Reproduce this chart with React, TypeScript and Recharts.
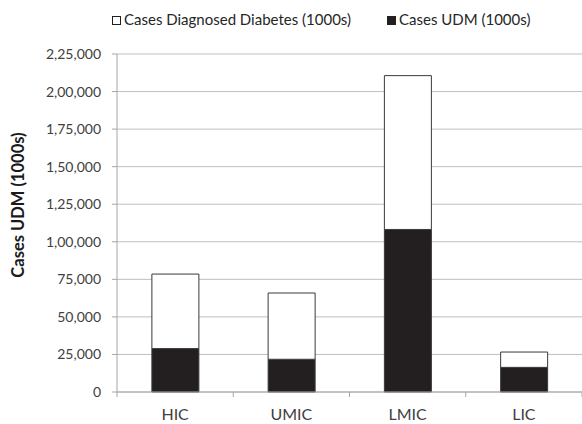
import React from "react";
import { BarChart, Bar, XAxis, YAxis, CartesianGrid, Label } from "recharts";

const categories = ["HIC", "UMIC", "LMIC", "LIC"];
const casesUDM = [28900, 21800, 108200, 16400];
const casesDiagnosed = [49600, 44100, 102400, 10200];
const yTicks = [0, 25000, 50000, 75000, 100000, 125000, 150000, 175000, 200000, 225000];

const seriesUDM = { key: "udm", name: "Cases UDM (1000s)", fill: "#231f20" };
const seriesDiag = { key: "diag", name: "Cases Diagnosed Diabetes (1000s)", fill: "#ffffff" };

const data = categories.map((c, i) => ({ cat: c, udm: casesUDM[i], diag: casesDiagnosed[i] }));

const W = 582;
const H = 424;
const Y_AXIS_W = 117;
const M_RIGHT = 0;
const FONT = "Lato, 'Noto Sans', sans-serif";
const bandW = (W - Y_AXIS_W - M_RIGHT) / categories.length;

const fmt = (v: number) => v.toLocaleString("en-IN");

const XTick = (props: any) => {
  const { x, y, payload, index } = props;
  const axisY = y - 8;
  return (
    <g>
      <line x1={x - bandW / 2} x2={x - bandW / 2} y1={axisY} y2={axisY + 5} stroke="#a6a6a6" />
      {index === categories.length - 1 && (
        <line x1={x + bandW / 2} x2={x + bandW / 2} y1={axisY} y2={axisY + 5} stroke="#a6a6a6" />
      )}
      <text x={x} y={axisY + 27.5} textAnchor="middle" fill="#404040" fontSize={16} fontFamily={FONT}>
        {payload.value}
      </text>
    </g>
  );
};

const LegendItem = ({ name, fill, left }: { name: string; fill: string; left: number }) => (
  <div
    style={{
      position: "absolute",
      left,
      top: 10,
      display: "flex",
      alignItems: "center",
      fontFamily: FONT,
      fontSize: 15,
      lineHeight: "18px",
      color: "#262626",
      whiteSpace: "nowrap",
    }}
  >
    <span
      style={{
        display: "inline-block",
        width: 7,
        height: 7,
        background: fill,
        border: "1px solid #231f20",
        marginRight: 3,
        marginTop: 2,
      }}
    />
    <span>{name}</span>
  </div>
);

export default function App() {
  return (
    <div style={{ position: "absolute", left: 0, top: 0, width: W, height: H, background: "#fff" }}>
      <LegendItem name={seriesDiag.name} fill={seriesDiag.fill} left={112} />
      <LegendItem name={seriesUDM.name} fill={seriesUDM.fill} left={387} />
      <BarChart
        width={W}
        height={H}
        data={data}
        margin={{ top: 54, right: M_RIGHT, left: 0, bottom: 0 }}
        barCategoryGap="30%"
      >
        <CartesianGrid vertical={false} stroke="#bfbfbf" strokeWidth={1} />
        <XAxis
          dataKey="cat"
          height={32}
          axisLine={{ stroke: "#a6a6a6" }}
          tickLine={false}
          tick={<XTick />}
          interval={0}
        />
        <YAxis
          width={Y_AXIS_W}
          domain={[0, 225000]}
          ticks={yTicks}
          interval={0}
          tickFormatter={fmt}
          axisLine={{ stroke: "#a6a6a6" }}
          tickLine={{ stroke: "#a6a6a6" }}
          tickSize={5}
          tickMargin={11}
          tick={{ fill: "#404040", fontSize: 14, fontFamily: FONT }}
        >
          <Label
            content={(p: any) => {
              const vb = p.viewBox || {};
              const cx = 18;
              const cy = (vb.y ?? 54) + (vb.height ?? 338) / 2 - 18;
              return (
                <text
                  x={cx}
                  y={cy}
                  transform={`rotate(-90 ${cx} ${cy})`}
                  textAnchor="middle"
                  dominantBaseline="central"
                  fontWeight="bold"
                  fontSize={16.5}
                  fontFamily={FONT}
                  fill="#1a1a1a"
                >
                  Cases UDM (1000s)
                </text>
              );
            }}
          />
        </YAxis>
        <Bar
          dataKey={seriesUDM.key}
          name={seriesUDM.name}
          stackId="a"
          fill={seriesUDM.fill}
          stroke="#3a3a3a"
          strokeWidth={1}
          isAnimationActive={false}
        />
        <Bar
          dataKey={seriesDiag.key}
          name={seriesDiag.name}
          stackId="a"
          fill={seriesDiag.fill}
          stroke="#3a3a3a"
          strokeWidth={1}
          isAnimationActive={false}
        />
      </BarChart>
    </div>
  );
}
